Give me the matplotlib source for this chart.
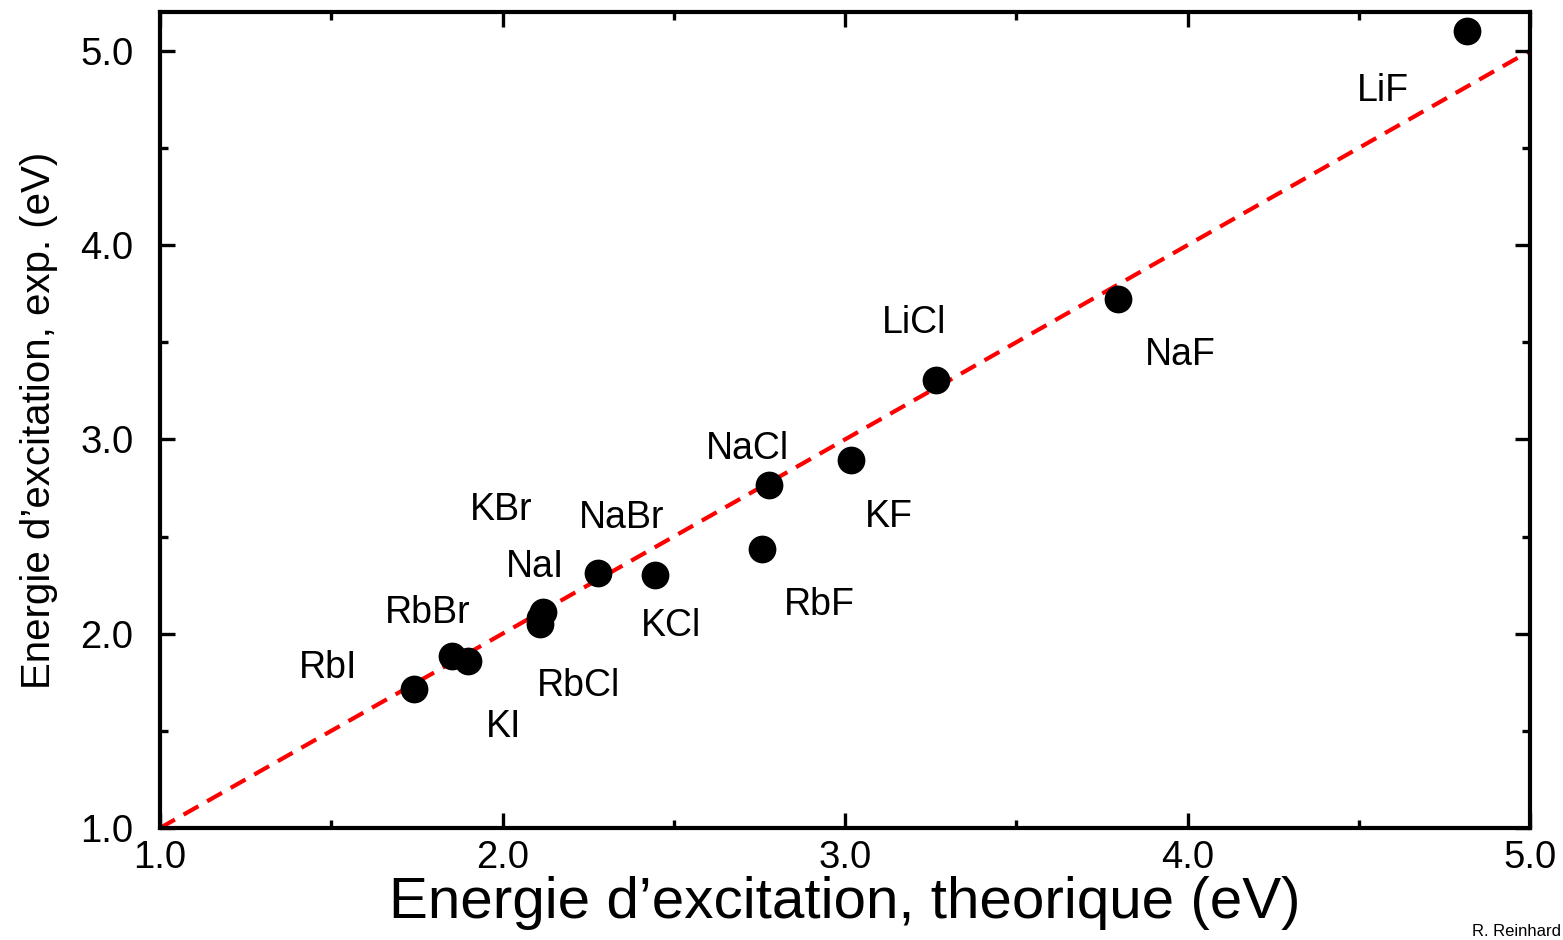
import matplotlib
matplotlib.use('Agg')
import matplotlib.pyplot as plt
from matplotlib.ticker import MultipleLocator, FormatStrFormatter

plt.rcParams['font.family'] = ['Liberation Sans', 'DejaVu Sans']

# energies d'excitation (eV): theorique vs experimentale
noms = ['LiF', 'NaF', 'LiCl', 'KF', 'NaCl', 'RbF', 'KCl', 'NaBr',
        'KBr', 'NaI', 'RbBr', 'RbCl', 'RbI', 'KI']
e_theo = [4.816, 3.797, 3.266, 3.018, 2.778, 2.758, 2.445, 2.279,
          2.110, 2.118, 1.853, 2.109, 1.742, 1.899]
e_exp = [5.103, 3.723, 3.306, 2.894, 2.766, 2.436, 2.302, 2.313,
         2.081, 2.112, 1.886, 2.050, 1.716, 1.861]
# decalage des etiquettes (pixels)
decal = [(-84, -60), (62, -56), (-22, 57), (38, -57), (-22, 36), (57, -56),
         (16, -51), (24, 55), (-39, 108), (-8, 45), (-25, 43), (39, -62),
         (-86, 21), (36, -66)]

fig = plt.figure(figsize=(15.63, 9.40), dpi=100)
ax = fig.add_axes([160/1563, 1 - 828/940, 1370/1563, 816/940])

ax.plot([1, 5], [1, 5], color='#ff0000', lw=3, ls=(0, (4.1, 2.4)), zorder=1)
ax.scatter(e_theo, e_exp, s=400, color='black', zorder=2, linewidths=0)

for nom, x, y, (dx, dy) in zip(noms, e_theo, e_exp, decal):
    ax.annotate(nom, (x, y), xytext=(dx, dy), textcoords='offset pixels',
                ha='center', va='center', fontsize=27)

ax.set_xlim(1, 5)
ax.set_ylim(1, 5.2)
ax.xaxis.set_major_locator(MultipleLocator(1))
ax.xaxis.set_minor_locator(MultipleLocator(0.5))
ax.yaxis.set_major_locator(MultipleLocator(1))
ax.yaxis.set_minor_locator(MultipleLocator(0.5))
ax.xaxis.set_major_formatter(FormatStrFormatter('%.1f'))
ax.yaxis.set_major_formatter(FormatStrFormatter('%.1f'))

ax.tick_params(which='both', direction='in', top=True, right=True, width=2.4)
ax.tick_params(which='major', length=11)
ax.tick_params(which='minor', length=6)
ax.tick_params(axis='x', which='major', labelsize=27.5, pad=9)
ax.tick_params(axis='y', which='major', labelsize=27.5, pad=19)
for sp in ax.spines.values():
    sp.set_linewidth(3)

ax.set_xlabel('Energie d\u2019excitation, theorique (eV)', fontsize=42, labelpad=0)
ax.set_ylabel('Energie d\u2019excitation, exp. (eV)', fontsize=29, labelpad=16)

fig.text(1561/1563, 1/940, 'R. Reinhard', fontsize=12, ha='right', va='bottom')

fig.savefig('out.png', dpi=100)
